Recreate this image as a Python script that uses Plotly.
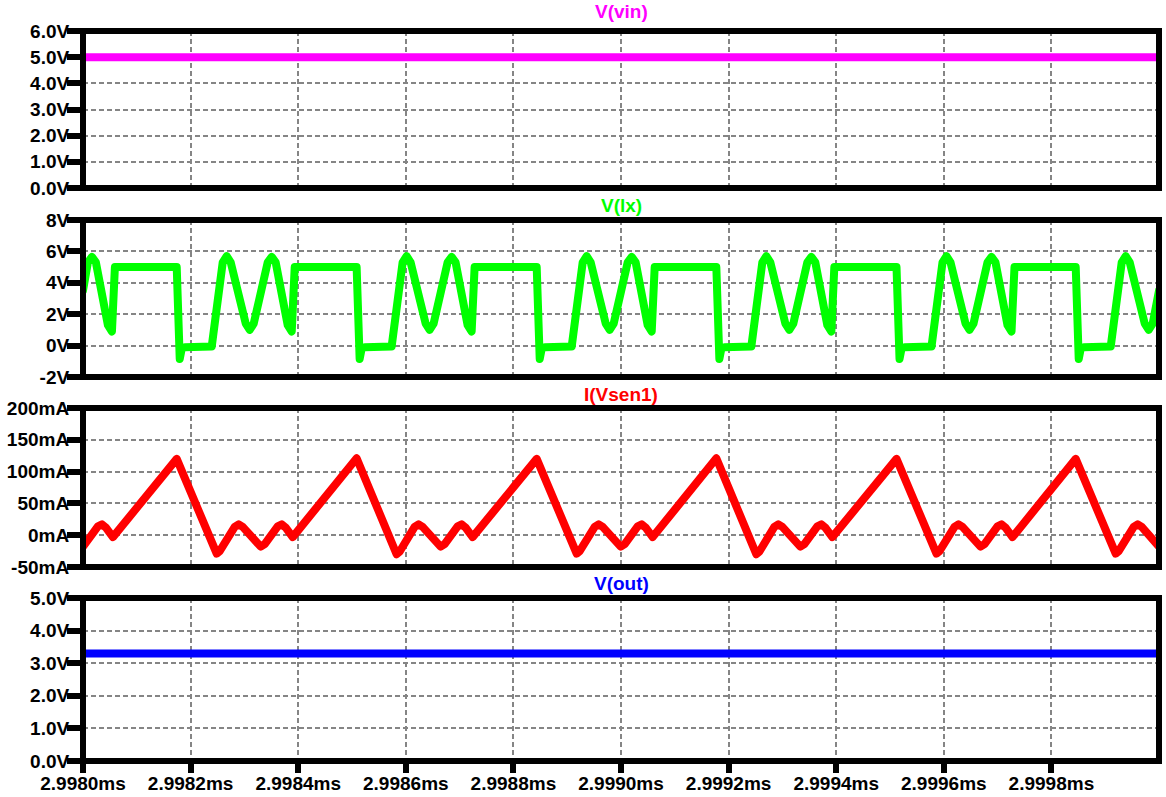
import plotly.graph_objects as go

# ---------------- data (time in ms) ----------------
t_const = [2.9980, 3.0000]
v_in = [5.0, 5.0]
v_out = [3.3, 3.3]

t_vlx = [
    2.9980000, 2.9980091, 2.9980166, 2.9980240, 2.9980463, 2.9980538, 2.9980593,
    2.9981742, 2.9981798, 2.9981835, 2.9981891, 2.9982393, 2.9982597, 2.9982671, 2.9982746,
    2.9983025, 2.9983099, 2.9983173, 2.9983433, 2.9983508, 2.9983582, 2.9983805, 2.9983880, 2.9983935,
    2.9985086, 2.9985142, 2.9985179, 2.9985235, 2.9985737, 2.9985941, 2.9986015, 2.9986090,
    2.9986369, 2.9986443, 2.9986517, 2.9986777, 2.9986852, 2.9986926, 2.9987149, 2.9987224, 2.9987279,
    2.9988433, 2.9988489, 2.9988526, 2.9988582, 2.9989084, 2.9989288, 2.9989362, 2.9989437,
    2.9989716, 2.9989790, 2.9989864, 2.9990124, 2.9990199, 2.9990273, 2.9990496, 2.9990571, 2.9990626,
    2.9991772, 2.9991828, 2.9991865, 2.9991921, 2.9992423, 2.9992627, 2.9992701, 2.9992776,
    2.9993055, 2.9993129, 2.9993203, 2.9993463, 2.9993538, 2.9993612, 2.9993835, 2.9993910, 2.9993965,
    2.9995121, 2.9995177, 2.9995214, 2.9995270, 2.9995772, 2.9995976, 2.9996050, 2.9996125,
    2.9996404, 2.9996478, 2.9996552, 2.9996812, 2.9996887, 2.9996961, 2.9997184, 2.9997259, 2.9997314,
    2.9998452, 2.9998508, 2.9998545, 2.9998601, 2.9999103, 2.9999307, 2.9999381, 2.9999456,
    2.9999735, 2.9999809, 2.9999883, 3.0000000,
]
v_lx = [
    3.5, 5.3, 5.65, 5.3, 1.3, 0.9, 5.0,
    5.0, -0.85, -0.2, -0.1, -0.05, 5.3, 5.7, 5.3,
    1.4, 1.0, 1.4, 5.3, 5.65, 5.3, 1.3, 0.9, 5.0,
    5.0, -0.85, -0.2, -0.1, -0.05, 5.3, 5.7, 5.3,
    1.4, 1.0, 1.4, 5.3, 5.65, 5.3, 1.3, 0.9, 5.0,
    5.0, -0.85, -0.2, -0.1, -0.05, 5.3, 5.7, 5.3,
    1.4, 1.0, 1.4, 5.3, 5.65, 5.3, 1.3, 0.9, 5.0,
    5.0, -0.85, -0.2, -0.1, -0.05, 5.3, 5.7, 5.3,
    1.4, 1.0, 1.4, 5.3, 5.65, 5.3, 1.3, 0.9, 5.0,
    5.0, -0.85, -0.2, -0.1, -0.05, 5.3, 5.7, 5.3,
    1.4, 1.0, 1.4, 5.3, 5.65, 5.3, 1.3, 0.9, 5.0,
    5.0, -0.85, -0.2, -0.1, -0.05, 5.3, 5.7, 5.3,
    1.4, 1.0, 1.4, 3.5,
]

t_isen = [
    2.9980000, 2.9980036, 2.9980277, 2.9980352, 2.9980426, 2.9980556,
    2.9981742, 2.9982485, 2.9982541, 2.9982820, 2.9982894, 2.9982969, 2.9983229, 2.9983303,
    2.9983378, 2.9983619, 2.9983694, 2.9983768, 2.9983898,
    2.9985086, 2.9985829, 2.9985885, 2.9986164, 2.9986238, 2.9986313, 2.9986573, 2.9986647,
    2.9986722, 2.9986963, 2.9987038, 2.9987112, 2.9987242,
    2.9988433, 2.9989176, 2.9989232, 2.9989511, 2.9989585, 2.9989660, 2.9989920, 2.9989994,
    2.9990069, 2.9990310, 2.9990385, 2.9990459, 2.9990589,
    2.9991772, 2.9992515, 2.9992571, 2.9992850, 2.9992924, 2.9992999, 2.9993259, 2.9993333,
    2.9993408, 2.9993649, 2.9993724, 2.9993798, 2.9993928,
    2.9995121, 2.9995864, 2.9995920, 2.9996199, 2.9996273, 2.9996348, 2.9996608, 2.9996682,
    2.9996757, 2.9996998, 2.9997073, 2.9997147, 2.9997277,
    2.9998452, 2.9999195, 2.9999251, 2.9999530, 2.9999604, 2.9999679, 2.9999939, 3.0000000,
]
i_sen = [
    -18, -14, 14, 17, 12, -3,
    120, -29, -25, 13, 17, 13, -14, -18,
    -14, 14, 17, 12, -3,
    121, -30, -26, 13, 17, 13, -14, -18,
    -14, 14, 17, 12, -3,
    120, -29, -25, 13, 17, 13, -14, -18,
    -14, 14, 17, 12, -3,
    121, -30, -26, 13, 17, 13, -14, -18,
    -14, 14, 17, 12, -3,
    120, -29, -25, 13, 17, 13, -14, -18,
    -14, 14, 17, 12, -3,
    120, -29, -25, 13, 17, 13, -14, -18,
]

x_tick_vals = [2.9980, 2.9982, 2.9984, 2.9986, 2.9988, 2.9990, 2.9992, 2.9994, 2.9996, 2.9998]
x_tick_text = ["2.9980ms", "2.9982ms", "2.9984ms", "2.9986ms", "2.9988ms",
               "2.9990ms", "2.9992ms", "2.9994ms", "2.9996ms", "2.9998ms"]

vin_ticks = [0, 1, 2, 3, 4, 5, 6]
vin_text = ["0.0V", "1.0V", "2.0V", "3.0V", "4.0V", "5.0V", "6.0V"]
vlx_ticks = [-2, 0, 2, 4, 6, 8]
vlx_text = ["-2V", "0V", "2V", "4V", "6V", "8V"]
isen_ticks = [-50, 0, 50, 100, 150, 200]
isen_text = ["-50mA", "0mA", "50mA", "100mA", "150mA", "200mA"]
vout_ticks = [0, 1, 2, 3, 4, 5]
vout_text = ["0.0V", "1.0V", "2.0V", "3.0V", "4.0V", "5.0V"]

titles = ["V(vin)", "V(lx)", "I(Vsen1)", "V(out)"]
colors = ["#FF00FF", "#00FF00", "#FF0000", "#0000FF"]

# ---------------- figure ----------------
FONT = "Liberation Sans"
W, H = 1166, 797
ML, MR, MT, MB = 83, 7, 31, 36
PH = H - MT - MB

def frac(ypx):
    return (H - MB - ypx) / PH

panel_px = [(31, 188), (220, 377), (408, 567), (598, 761)]
title_px = [12, 205, 395, 583]

series = [
    (t_const, v_in, [0, 6], vin_ticks, vin_text),
    (t_vlx, v_lx, [-2, 8], vlx_ticks, vlx_text),
    (t_isen, i_sen, [-50, 200], isen_ticks, isen_text),
    (t_const, v_out, [0, 5], vout_ticks, vout_text),
]

fig = go.Figure()
layout = dict(
    width=W, height=H,
    margin=dict(l=ML, r=MR, t=MT, b=MB, pad=0, autoexpand=False),
    paper_bgcolor="white", plot_bgcolor="white",
    showlegend=False,
    font=dict(family=FONT, size=19, color="black", weight=700),
    shapes=[], annotations=[],
)

grid_kw = dict(showgrid=True, gridcolor="#858585", gridwidth=1.5, griddash="5px,3px",
               zeroline=False, showline=False, automargin=False)

for i, (xs, ys, yr, tv, tt) in enumerate(series):
    n = i + 1
    sfx = "" if n == 1 else str(n)
    fig.add_trace(go.Scatter(x=xs, y=ys, mode="lines",
                             line=dict(color=colors[i], width=8),
                             xaxis="x" + sfx, yaxis="y" + sfx,
                             hoverinfo="skip"))
    top, bot = panel_px[i]
    last = (n == 4)
    layout["xaxis" + sfx] = dict(
        domain=[0, 1], range=[2.998, 3.000], anchor="y" + sfx,
        tickmode="array", tickvals=x_tick_vals, ticktext=x_tick_text,
        showticklabels=last, ticks="outside" if last else "",
        ticklen=11, tickwidth=6, tickcolor="black",
        tickfont=dict(family=FONT, size=19, color="black", weight=700),
        ticklabelstandoff=-6,
        **grid_kw,
    )
    layout["yaxis" + sfx] = dict(
        domain=[frac(bot), frac(top)], range=yr, anchor="x" + sfx,
        tickmode="array", tickvals=tv, ticktext=tt,
        ticks="outside", ticklen=15, tickwidth=6, tickcolor="black",
        tickfont=dict(family=FONT, size=19, color="black", weight=700),
        ticklabelstandoff=-6,
        **grid_kw,
    )
    layout["shapes"].append(dict(
        type="rect", xref=("x" + sfx + " domain"), yref=("y" + sfx + " domain"),
        x0=0, x1=1, y0=0, y1=1, line=dict(color="black", width=6),
        fillcolor="rgba(0,0,0,0)", layer="above",
    ))
    layout["annotations"].append(dict(
        text=titles[i], xref="paper", yref="paper", x=0.5, y=frac(title_px[i]),
        xanchor="center", yanchor="middle", showarrow=False,
        font=dict(family=FONT, size=19, color=colors[i], weight=700),
    ))

fig.update_layout(**layout)
post = (
    "document.body.style.margin='0';"
    "document.querySelectorAll('.scatterlayer path.js-line').forEach(function(p){"
    "p.style.strokeLinejoin='round';p.style.strokeLinecap='round';});"
)
fig.write_html("out.html", post_script=post, config={"displayModeBar": False})
